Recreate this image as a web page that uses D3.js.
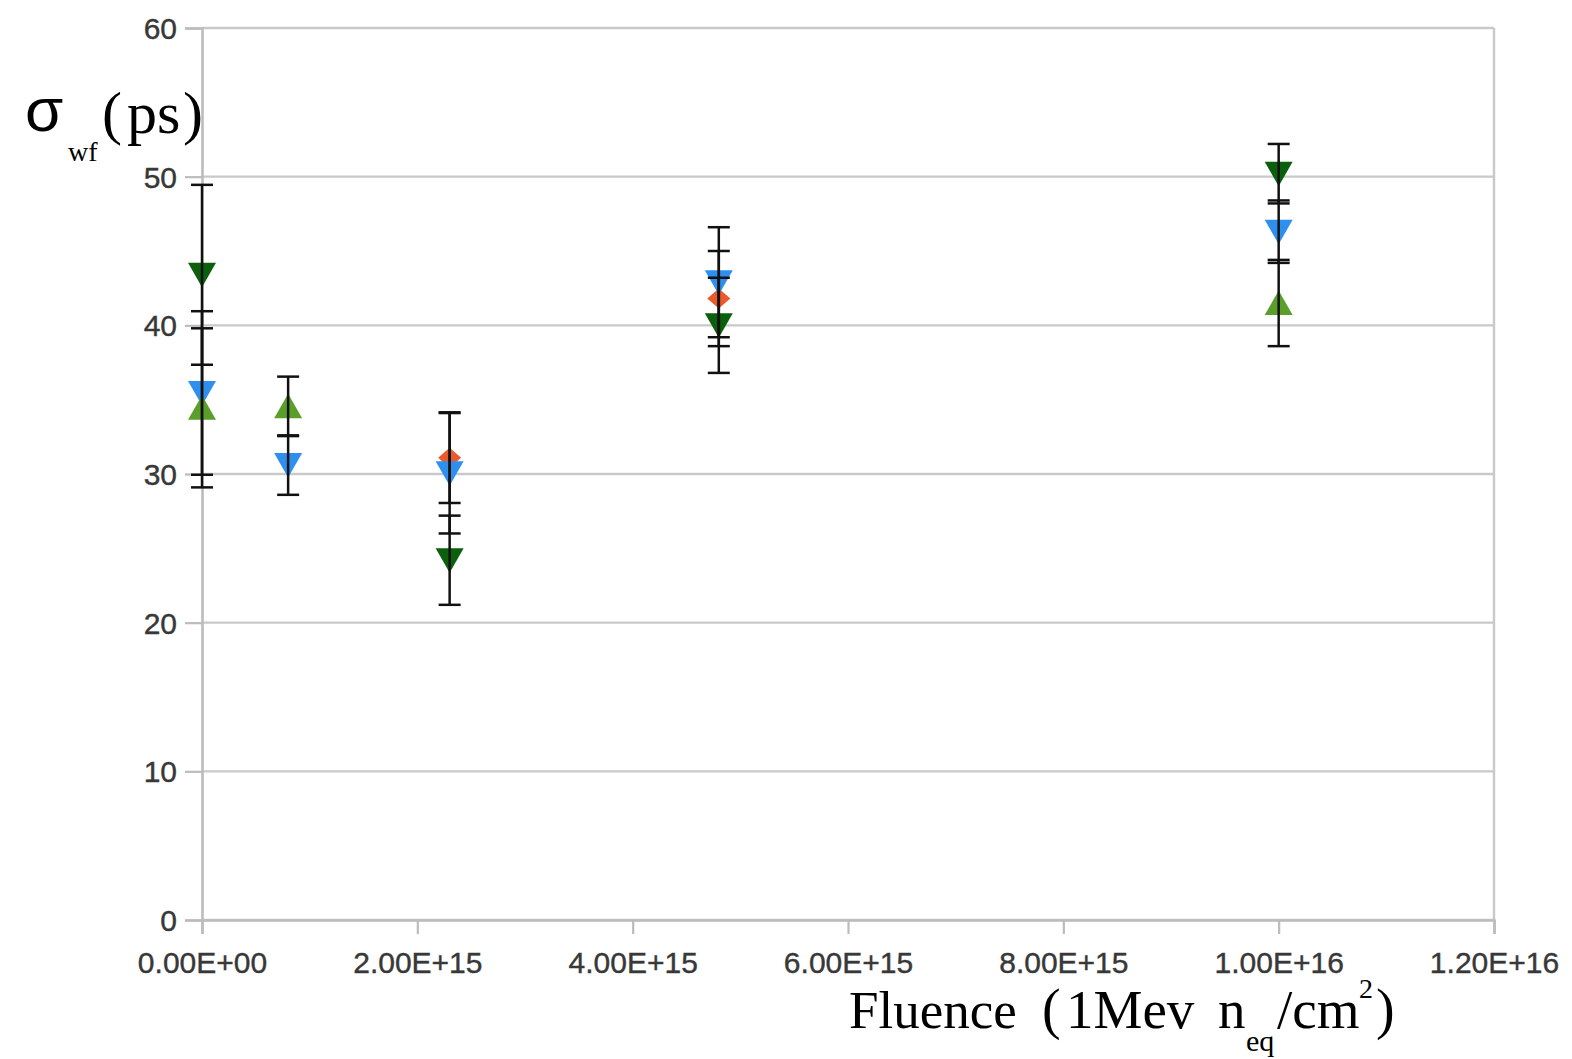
<!DOCTYPE html>
<html>
<head>
<meta charset="utf-8">
<script src="https://cdn.jsdelivr.net/npm/d3@7"></script>
<style>
  html, body { margin: 0; padding: 0; background: #ffffff; }
  svg { display: block; }
</style>
</head>
<body>
<svg id="chart" width="1572" height="1059"></svg>
<script>
// Time resolution vs. fluence for several sensors, with error bars
const xTicks = [0, 2e15, 4e15, 6e15, 8e15, 1e16, 1.2e16];
const xTickLabels = ["0.00E+00", "2.00E+15", "4.00E+15", "6.00E+15", "8.00E+15", "1.00E+16", "1.20E+16"];
const yTicks = [0, 10, 20, 30, 40, 50, 60];
const yTickLabels = ["0", "10", "20", "30", "40", "50", "60"];

// series: fluence, sigma (ps), error (ps)
const orangeFluence = [2.3e15, 4.8e15];
const orangeSigma   = [31.1, 41.8];
const orangeErr     = [3.05, 3.2];

const blueFluence = [0, 8e14, 2.3e15, 4.8e15, 1e16];
const blueSigma   = [35.45, 30.6, 30.05, 42.9, 46.3];
const blueErr     = [5.5, 2.0, 4.05, 3.7, 2.1];

const greenFluence = [0, 8e14, 1e16];
const greenSigma   = [34.45, 34.55, 41.5];
const greenErr     = [5.35, 2.0, 2.9];

const darkFluence = [0, 2.3e15, 4.8e15, 1e16];
const darkSigma   = [43.4, 24.2, 40.0, 50.2];
const darkErr     = [6.05, 3.0, 3.2, 2.0];

const series = [
  { fluence: orangeFluence, sigma: orangeSigma, err: orangeErr, color: "#ea5a2c", shape: "diamond" },
  { fluence: blueFluence,   sigma: blueSigma,   err: blueErr,   color: "#2e8fee", shape: "down" },
  { fluence: greenFluence,  sigma: greenSigma,  err: greenErr,  color: "#5b9e2a", shape: "up" },
  { fluence: darkFluence,   sigma: darkSigma,   err: darkErr,   color: "#0c5f0c", shape: "down" }
];

const svg = d3.select("#chart");
const plotLeft = 202, plotRight = 1494, plotTop = 28, plotBottom = 920;

const x = d3.scaleLinear().domain([0, 1.2e16]).range([plotLeft, plotRight]);
const y = d3.scaleLinear().domain([0, 60]).range([plotBottom, plotTop]);

const gridColor = "#c9c9c9";
const labelColor = "#383838";

// horizontal gridlines
svg.append("g").selectAll("line").data(yTicks).join("line")
  .attr("x1", plotLeft).attr("x2", plotRight)
  .attr("y1", d => y(d)).attr("y2", d => y(d))
  .attr("stroke", gridColor).attr("stroke-width", 2.4);

// right border of the plot area
svg.append("line")
  .attr("x1", plotRight).attr("x2", plotRight).attr("y1", plotTop).attr("y2", plotBottom)
  .attr("stroke", gridColor).attr("stroke-width", 2.4);

function styleLabels(sel) {
  sel.attr("font-family", "Liberation Sans, Arial, sans-serif").attr("font-size", 30)
    .attr("fill", labelColor).attr("stroke", labelColor).attr("stroke-width", 0.4);
}

// y axis
const yAxis = d3.axisLeft(y).tickValues(yTicks)
  .tickFormat((d, i) => yTickLabels[i]).tickSize(17).tickPadding(8);
const gy = svg.append("g").attr("transform", `translate(${plotLeft},0)`).call(yAxis);
gy.select(".domain").attr("stroke", "#bcbcbc").attr("stroke-width", 2.6);
gy.selectAll(".tick line").attr("stroke", "#bcbcbc").attr("stroke-width", 2.2);
gy.selectAll(".tick text").call(styleLabels).attr("dy", "0.35em");

// x axis
const xAxis = d3.axisBottom(x).tickValues(xTicks)
  .tickFormat((d, i) => xTickLabels[i]).tickSize(14).tickPadding(18);
const gx = svg.append("g").attr("transform", `translate(0,${plotBottom})`).call(xAxis);
gx.select(".domain").attr("stroke", "#bcbcbc").attr("stroke-width", 2.6);
gx.selectAll(".tick line").attr("stroke", "#bcbcbc").attr("stroke-width", 2.2);
gx.selectAll(".tick text").call(styleLabels);

// marker shapes
function markerPath(shape) {
  if (shape === "down") return "M-14,-12L14,-12L0,12.5Z";
  if (shape === "up") return "M-14,12L14,12L0,-12.5Z";
  return "M0,-10L11.5,0L0,10L-11.5,0Z";
}

const marks = svg.append("g");
series.forEach(s => {
  marks.append("g").selectAll("path").data(s.fluence.map((f, i) => ({ f, v: s.sigma[i] })))
    .join("path")
    .attr("transform", d => `translate(${x(d.f)},${y(d.v)})`)
    .attr("d", markerPath(s.shape))
    .attr("fill", s.color);
});

// error bars drawn over the markers
const bars = svg.append("g").attr("stroke", "#111").attr("stroke-width", 2.5);
series.forEach(s => {
  s.fluence.forEach((f, i) => {
    const cx = x(f), hi = y(s.sigma[i] + s.err[i]), lo = y(s.sigma[i] - s.err[i]);
    bars.append("line").attr("x1", cx).attr("x2", cx).attr("y1", hi).attr("y2", lo);
    bars.append("line").attr("x1", cx - 11).attr("x2", cx + 11).attr("y1", hi).attr("y2", hi);
    bars.append("line").attr("x1", cx - 11).attr("x2", cx + 11).attr("y1", lo).attr("y2", lo);
  });
});

// axis titles, built from separately placed pieces
const serif = "Liberation Serif, Times New Roman, serif";
function piece(txt, px, py, size, family) {
  return svg.append("text").attr("x", px).attr("y", py).attr("fill", "#000")
    .attr("font-family", family || serif).attr("font-size", size).text(txt);
}

// y axis title
piece("σ", 25, 131, 62, "Liberation Sans, Arial, sans-serif");
piece("wf", 68, 161, 28);
piece("(", 102, 133, 60);
piece("ps", 127, 133, 60);
piece(")", 183, 133, 60);

// x axis title
piece("Fluence", 849, 1028, 53);
piece("(", 1042, 1028, 56);
piece("1Mev", 1066, 1028, 55);
piece("n", 1218, 1028, 55);
piece("eq", 1246, 1051, 30);
piece("/cm", 1277, 1028, 55);
piece("2", 1359, 998, 28);
piece(")", 1376, 1028, 56);
</script>
</body>
</html>
